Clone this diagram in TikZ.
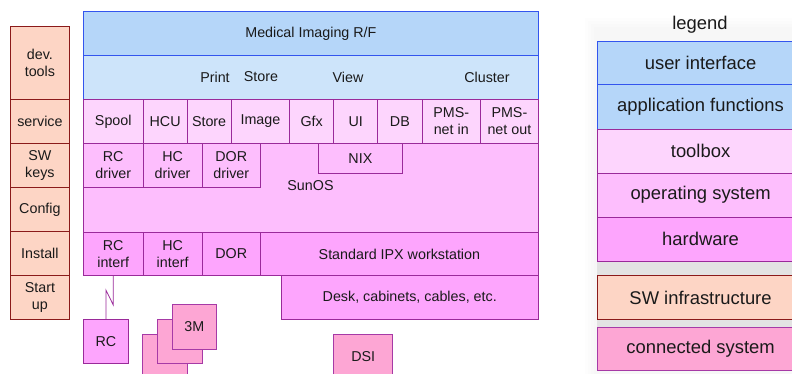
\documentclass[tikz,border=0pt]{standalone}
\usepackage{fontspec}
\setmainfont{Liberation Sans}
\usetikzlibrary{calc}
\definecolor{uiblue}{HTML}{B5D6F9}
\definecolor{afblue}{HTML}{CDE4FA}
\definecolor{bluebd}{HTML}{3355EE}
\definecolor{tbpink}{HTML}{FDD5FD}
\definecolor{ospink}{HTML}{FDBEFD}
\definecolor{hwpink}{HTML}{FDA5FD}
\definecolor{purbd}{HTML}{9A2A9A}
\definecolor{swpeach}{HTML}{FDD5C5}
\definecolor{swbd}{HTML}{8B1A1A}
\definecolor{cspink}{HTML}{FDA6D4}
\definecolor{csbd}{HTML}{A63AA6}
\definecolor{txt}{HTML}{1A1A1A}
\begin{document}
\begin{tikzpicture}[x=1pt,y=-1pt,
  every node/.style={text=txt},
  box/.style={draw, line width=0.8pt, anchor=north west, inner sep=0pt, align=center,
    font=\fontsize{14.3}{17}\selectfont},
  lbl/.style={inner sep=0pt, font=\fontsize{14.3}{17}\selectfont},
  ui/.style={box, fill=uiblue, draw=bluebd},
  af/.style={box, fill=afblue, draw=bluebd},
  tb/.style={box, fill=tbpink, draw=purbd},
  os/.style={box, fill=ospink, draw=purbd},
  hw/.style={box, fill=hwpink, draw=purbd},
  sw/.style={box, fill=swpeach, draw=swbd},
  cs/.style={box, fill=cspink, draw=csbd},
  leg/.style={font=\fontsize{18.4}{21}\selectfont, minimum width=205.7, minimum height=44},
  conn/.style={draw=purbd, line width=0.8pt}]
\clip (0,0) rectangle (792,374);
\fill[white] (0,0) rectangle (792,374);
% legend soft shadow
\foreach \d in {3,6,9,12}
  \fill[black, opacity=0.007] (597.3-\d,30-\d) rectangle (803,374);
\fill[black!11] (597.3,258) rectangle (803,328);
% left column: SW infrastructure
\node[sw, minimum width=59, minimum height=73] (dev) at (10,26) {dev.\\tools};
\node[sw, minimum width=59, minimum height=44] (service) at (10,99) {service};
\node[sw, minimum width=59, minimum height=44] (swkeys) at (10,143) {SW\\keys};
\node[sw, minimum width=59, minimum height=44] (config) at (10,187) {Config};
\node[sw, minimum width=59, minimum height=44] (install) at (10,231) {Install};
\node[sw, minimum width=59, minimum height=44] (startup) at (10,275) {Start\\up};
% main stack
\node[ui, minimum width=455, minimum height=44] (med) at (83,11) {Medical Imaging R/F};
\node[af, minimum width=455, minimum height=44] (app) at (83,55) {};
\node[lbl] (print) at (215,77) {Print};
\node[lbl] (storef) at (261,77) {Store};
\node[lbl] (view) at (348,77) {View};
\node[lbl] (cluster) at (487,77) {Cluster};
% toolbox
\node[tb, minimum width=59.7, minimum height=44] (spool) at (83,99) {Spool};
\node[tb, minimum width=44, minimum height=44] (hcu) at (142.7,99) {HCU};
\node[tb, minimum width=44, minimum height=44] (store) at (186.7,99) {Store};
\node[tb, minimum width=58.6, minimum height=44] (image) at (230.7,99) {Image};
\node[tb, minimum width=44, minimum height=44] (gfx) at (289.3,99) {Gfx};
\node[tb, minimum width=44, minimum height=44] (uit) at (333.3,99) {UI};
\node[tb, minimum width=44.4, minimum height=44] (db) at (377.3,99) {DB};
\node[tb, minimum width=58.3, minimum height=44] (pmsin) at (421.7,99) {PMS-\\net in};
\node[tb, minimum width=58, minimum height=44] (pmsout) at (480,99) {PMS-\\net out};
% operating system
\node[os, minimum width=455, minimum height=88.7] (os) at (83,143) {};
\node[lbl] (sunos) at (310.5,186) {SunOS};
\node[os, minimum width=59.7, minimum height=43.7] (rcd) at (83,143) {RC\\driver};
\node[os, minimum width=59, minimum height=43.7] (hcd) at (142.7,143) {HC\\driver};
\node[os, minimum width=58.3, minimum height=43.7] (dord) at (201.7,143) {DOR\\driver};
\node[os, minimum width=83.4, minimum height=29.7] (nix) at (318.3,143) {NIX};
% hardware
\node[hw, minimum width=59.7, minimum height=43.7] (rci) at (83,231.7) {RC\\interf};
\node[hw, minimum width=59, minimum height=43.7] (hci) at (142.7,231.7) {HC\\interf};
\node[hw, minimum width=58.3, minimum height=43.7] (dor) at (201.7,231.7) {DOR};
\node[hw, minimum width=278, minimum height=43.7] (ipx) at (260,231.7) {Standard IPX workstation};
\node[hw, minimum width=257.3, minimum height=44] (desk) at (280.7,275.3) {Desk, cabinets, cables, etc.};
% connected systems
\node[hw, minimum width=44.4, minimum height=44] (rc) at (83.3,319.3) {RC};
\node[cs, minimum width=44.4, minimum height=44] (m3c) at (142.3,334) {};
\node[cs, minimum width=44.4, minimum height=44] (m3b) at (157.3,319.3) {};
\node[cs, minimum width=44.4, minimum height=44.4] (m3) at (171.7,304.3) {3M};
\node[cs, minimum width=59, minimum height=44] (dsi) at (333.3,334) {DSI};
\draw[conn] (rci.south) -- ++(0,28.7) -- ($(rc.north)+(0,-29.3)$) -- (rc.north);
% legend
\node[font=\fontsize{18.4}{21}\selectfont] (legend) at (700,25) {legend};
\node[ui, leg, minimum height=43.6] (lui) at (597.3,40.7) {user interface};
\node[ui, leg, minimum height=44.4] (laf) at (597.3,84.3) {application functions};
\node[tb, leg] (ltb) at (597.3,128.7) {toolbox};
\node[os, leg] (los) at (597.3,172.7) {operating system};
\node[hw, leg] (lhw) at (597.3,216.7) {hardware};
\node[sw, leg] (lsw) at (597.3,275.3) {SW infrastructure};
\node[cs, leg, minimum height=43.3] (lcs) at (597.3,326.7) {connected system};
\end{tikzpicture}
\end{document}
